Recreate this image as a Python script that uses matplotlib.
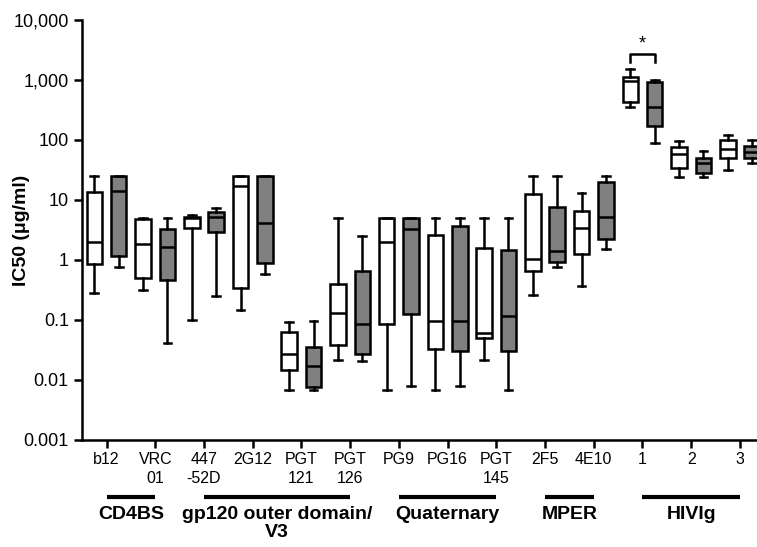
"""HIV 中和抗体 IC50 箱线图：白色/灰色两组，对数纵轴。"""

import matplotlib

matplotlib.use("Agg")
import matplotlib.pyplot as plt
import numpy as np

plt.rcParams["font.family"] = ["Liberation Sans", "DejaVu Sans"]

categories = ["b12", "VRC\n01", "447\n-52D", "2G12", "PGT\n121", "PGT\n126",
              "PG9", "PG16", "PGT\n145", "2F5", "4E10", "1", "2", "3"]

# 白色组：下须, Q1, 中位数, Q3, 上须 (μg/ml)
white_lo = [0.28, 0.32, 0.10, 0.147, 0.0068, 0.0215, 0.0068, 0.0068, 0.0215, 0.26, 0.37, 350, 24, 32]
white_q1 = [0.85, 0.51, 3.45, 0.34, 0.0147, 0.039, 0.086, 0.033, 0.050, 0.66, 1.26, 425, 34, 51]
white_med = [2.0, 1.83, 5.0, 17, 0.027, 0.129, 1.97, 0.096, 0.061, 1.03, 3.37, 950, 58, 70]
white_q3 = [13.7, 4.8, 5.2, 25, 0.064, 0.4, 5.0, 2.6, 1.6, 12.4, 6.5, 1135, 75, 100]
white_hi = [25, 5.0, 5.6, 25, 0.092, 5.07, 5.0, 5.0, 5.0, 25, 12.9, 1525, 96, 121]

# 灰色组
grey_lo = [0.75, 0.041, 0.254, 0.58, 0.0068, 0.0207, 0.0078, 0.0078, 0.0068, 0.77, 1.55, 88, 24, 41]
grey_q1 = [1.17, 0.46, 2.96, 0.88, 0.0076, 0.027, 0.126, 0.030, 0.030, 0.92, 2.2, 171, 28, 50]
grey_med = [14, 1.65, 5.15, 4.2, 0.017, 0.085, 3.25, 0.096, 0.118, 1.41, 5.25, 350, 41, 64]
grey_q3 = [25, 3.3, 6.3, 25, 0.036, 0.66, 5.0, 3.73, 1.47, 7.5, 20, 940, 50, 79]
grey_hi = [25, 5.0, 7.3, 25, 0.096, 2.5, 5.0, 5.0, 5.0, 25, 25, 1000, 66, 100]

groups = ["CD4BS", "gp120 outer domain/\nV3", "Quaternary", "MPER", "HIVIg"]
group_first = [0, 2, 6, 9, 11]
group_last = [1, 5, 8, 10, 13]

yticks = [0.001, 0.01, 0.1, 1, 10, 100, 1000, 10000]
ytick_labels = ["0.001", "0.01", "0.1", "1", "10", "100", "1,000", "10,000"]


def make_stats(lo, q1, med, q3, hi):
    return [dict(whislo=a, q1=b, med=c, q3=d, whishi=e, fliers=[])
            for a, b, c, d, e in zip(lo, q1, med, q3, hi)]


fig = plt.figure(figsize=(7.57, 5.47), dpi=100)
ax = fig.add_axes([82 / 757, 107 / 547, 675 / 757, 420 / 547])

x = np.arange(len(categories))
lw = 1.8
common = dict(
    widths=0.32,
    showfliers=False,
    patch_artist=True,
    manage_ticks=False,
    medianprops=dict(color="black", linewidth=lw),
    whiskerprops=dict(color="black", linewidth=lw),
    capprops=dict(color="black", linewidth=lw),
)
ax.bxp(make_stats(white_lo, white_q1, white_med, white_q3, white_hi),
       positions=x - 0.25,
       boxprops=dict(facecolor="white", edgecolor="black", linewidth=lw),
       **common)
ax.bxp(make_stats(grey_lo, grey_q1, grey_med, grey_q3, grey_hi),
       positions=x + 0.25,
       boxprops=dict(facecolor="#808080", edgecolor="black", linewidth=lw),
       **common)

ax.set_yscale("log")
ax.set_ylim(0.001, 10000)
ax.set_xlim(-0.503, 13.35)
ax.set_yticks(yticks)
ax.set_yticklabels(ytick_labels, fontsize=13)
ax.yaxis.set_minor_locator(matplotlib.ticker.NullLocator())
ax.set_xticks(x)
ax.set_xticklabels(categories, fontsize=11.5, linespacing=1.3)
ax.tick_params(axis="both", length=6, width=1.8, color="black")
ax.tick_params(axis="x", pad=3)

for side in ("top", "right"):
    ax.spines[side].set_visible(False)
for side in ("left", "bottom"):
    ax.spines[side].set_linewidth(1.8)

ax.set_ylabel("IC50 (μg/ml)", fontsize=14, fontweight="bold")
ax.yaxis.set_label_coords(-0.077, 0.5)

# 分组横线与组名
trans = ax.get_xaxis_transform()
for name, first, last in zip(groups, group_first, group_last):
    ax.plot([first, last], [-0.136, -0.136], transform=trans, clip_on=False,
            color="black", linewidth=3, solid_capstyle="butt")
    ax.text((first + last) / 2, -0.158, name, transform=trans, ha="center",
            va="top", fontsize=14, fontweight="bold", linespacing=1.05)

# HIVIg 1 显著性标记
ax.plot([10.75, 10.75, 11.25, 11.25], [1970, 2710, 2710, 1970],
        color="black", linewidth=1.8)
ax.text(11, 2850, "*", ha="center", va="bottom", fontsize=13)

fig.savefig("out.png", dpi=100)
